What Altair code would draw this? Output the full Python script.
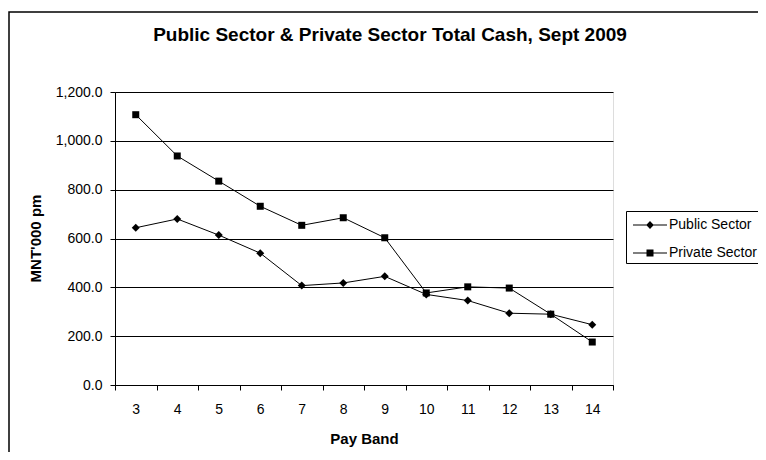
import altair as alt
import pandas as pd

bands = [3, 4, 5, 6, 7, 8, 9, 10, 11, 12, 13, 14]
public_sector = [644, 680, 614, 540, 407, 418, 445, 371, 346, 294, 290, 247]
private_sector = [1107, 938, 835, 732, 654, 685, 603, 377, 402, 397, 290, 176]
series_names = ["Public Sector", "Private Sector"]
y_ticks = [0, 200, 400, 600, 800, 1000, 1200]

rows = []
for b, v in zip(bands, public_sector):
    rows.append({"band": str(b), "value": v, "series": series_names[0]})
for b, v in zip(bands, private_sector):
    rows.append({"band": str(b), "value": v, "series": series_names[1]})
df = pd.DataFrame(rows)

FONT = "Liberation Sans"
band_order = [str(b) for b in bands]

x_enc = alt.X(
    "band:N",
    sort=band_order,
    scale=alt.Scale(paddingInner=0, paddingOuter=0),
    axis=alt.Axis(
        title="Pay Band",
        labelAngle=0,
        tickBand="extent",
        tickSize=5,
        tickColor="black",
        domainColor="black",
        labelFontSize=14,
        labelFont=FONT,
        labelColor="black",
        labelPadding=12,
        titleFont=FONT,
        titleFontSize=15,
        titleFontWeight="bold",
        titleColor="black",
        titleX=249,
        titleY=53,
        titleBaseline="middle",
        grid=False,
    ),
)
y_enc = alt.Y(
    "value:Q",
    scale=alt.Scale(domain=[0, 1200], nice=False),
    axis=alt.Axis(
        title="MNT'000 pm",
        values=y_ticks,
        format=",.1f",
        tickSize=5,
        tickColor="black",
        domainColor="black",
        gridColor="black",
        gridOpacity=1,
        labelFontSize=14,
        labelFont=FONT,
        labelColor="black",
        labelPadding=8,
        titleFont=FONT,
        titleFontSize=15,
        titleFontWeight="bold",
        titleColor="black",
        titleX=-80,
        titleY=146,
        titleAngle=270,
        titleAlign="center",
        titleBaseline="middle",
    ),
)

lines = alt.Chart(df).mark_line(color="black", strokeWidth=1).encode(
    x=x_enc, y=y_enc, detail="series:N"
)
pub_pts = alt.Chart(df).transform_filter(
    alt.datum.series == series_names[0]
).mark_point(shape="diamond", filled=True, color="black", size=64, opacity=1).encode(
    x=x_enc, y=y_enc
)
priv_pts = alt.Chart(df).transform_filter(
    alt.datum.series == series_names[1]
).mark_point(shape="square", filled=True, color="black", size=49, opacity=1).encode(
    x=x_enc, y=y_enc
)

bar_path = "M-0.7,-0.05L2.7,-0.05L2.7,0.05L-0.7,0.05Z"
diamond_sym = bar_path + "M0.62,0L1,-0.4L1.38,0L1,0.4Z"
square_sym = bar_path + "M0.65,-0.35L1.35,-0.35L1.35,0.35L0.65,0.35Z"

legend_layer = alt.Chart(df).transform_filter("false").mark_point(
    filled=True, color="black", opacity=1
).encode(
    x=x_enc,
    y=y_enc,
    shape=alt.Shape(
        "series:N",
        scale=alt.Scale(domain=series_names, range=[diamond_sym, square_sym]),
        legend=alt.Legend(
            title=None,
            orient="none",
            legendX=511,
            legendY=119,
            symbolSize=400,
            symbolFillColor="black",
            symbolOpacity=1,
            labelFont=FONT,
            labelFontSize=14,
            labelColor="black",
            labelOffset=18,
            rowPadding=10,
            padding=3,
            strokeColor="black",
            fillColor="white",
        ),
    ),
)

frame = alt.Chart(pd.DataFrame({"a": [0]})).mark_rect(
    fill=None, stroke="black", strokeWidth=1.5
).encode(
    x=alt.value(-106), x2=alt.value(800), y=alt.value(-80), y2=alt.value(500)
)

chart = alt.layer(frame, lines, pub_pts, priv_pts, legend_layer).properties(
    width=498,
    height=293,
    title=alt.TitleParams(
        "Public Sector & Private Sector Total Cash, Sept 2009",
        font=FONT,
        fontSize=19,
        fontWeight="bold",
        color="black",
        anchor="middle",
        frame="group",
        baseline="alphabetic",
        dx=26,
        dy=49,
        offset=0,
    ),
    autosize=alt.AutoSizeParams(type="none"),
    padding={"left": 107, "top": 84, "right": 145, "bottom": 67},
).configure_view(stroke="#808080", strokeWidth=1).configure(background="white")

chart.save("out.html", embed_options={"renderer": "svg", "actions": False})
